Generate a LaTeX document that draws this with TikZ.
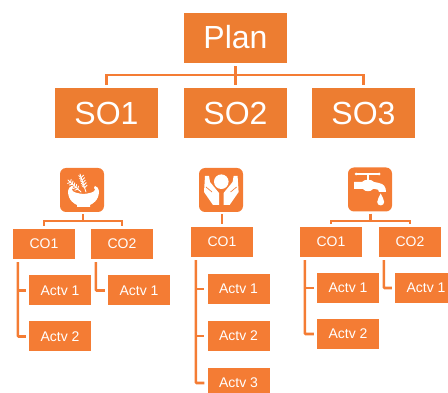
\documentclass[tikz,border=0pt]{standalone}
\usepackage{fontspec}
\usetikzlibrary{calc}
\setmainfont{Liberation Sans}
\definecolor{topor}{HTML}{ED7D31}
\definecolor{lowor}{HTML}{F47C34}
\tikzset{
  x=1pt,y=-1pt,
  basebox/.style={rectangle,inner sep=0pt,text=white,anchor=center},
  bigbox/.style={basebox,fill=topor,minimum width=103pt,minimum height=50pt,font=\fontsize{32}{32}\selectfont},
  cobox/.style={basebox,fill=lowor,minimum width=62pt,minimum height=30pt,font=\fontsize{14}{14}\selectfont},
  iconbox/.style={basebox,fill=lowor,minimum width=44pt,minimum height=44pt,rounded corners=6pt},
  conn/.style={draw=lowor,line width=2.6pt,shorten <=3pt,shorten >=3pt},
  trunk/.style={draw=lowor,line width=2.6pt,shorten <=3pt,shorten >=3pt,rounded corners=1pt},
  art/.style={fill=white,draw=none},
  wheat/.style={draw=white,line width=.9pt,line cap=round},
  cut/.style={draw=lowor,line width=.7pt}
}
\begin{document}
\begin{tikzpicture}
\useasboundingbox (0,0) rectangle (448,393);
\clip (0,0) rectangle (448,393);
% top tree
\node[bigbox,text depth=2.5pt] (plan) at (235.5,38) {Plan};
\node[bigbox] (so1) at (106.5,113) {SO1};
\node[bigbox] (so2) at (235.5,113) {SO2};
\node[bigbox] (so3) at (363.5,113) {SO3};
\coordinate (busP) at (235.5,75);
\draw[conn] (plan.south) -- (so2.north);
\draw[conn] (so1.north) |- (busP) -| (so3.north);
% left group
\node[iconbox] (icA) at (82,190) {};
\node[cobox] (a1) at (44,244) {CO1};
\node[cobox] (a2) at (122,244) {CO2};
\node[cobox] (a11) at (60,290.5) {Actv 1};
\node[cobox] (a12) at (60,336.5) {Actv 2};
\node[cobox] (a21) at (139,290.5) {Actv 1};
\coordinate (busA) at (83,221);
\coordinate (ta1) at ([xshift=5pt]a1.south west);
\coordinate (ta2) at ([xshift=5pt]a2.south west);
\draw[conn,shorten <=2pt,shorten >=0pt] (icA.south -| busA) -- (busA);
\draw[conn] (a1.north) |- (busA) -| (a2.north);
\draw[trunk] (ta1) |- (a12.west);
\draw[conn,shorten <=0pt] (ta1 |- a11.west) -- (a11.west);
\draw[trunk] (ta2) |- (a21.west);
% middle group
\node[iconbox] (icB) at (221,190) {};
\node[cobox] (b1) at (222,242) {CO1};
\node[cobox] (b11) at (238.5,289) {Actv 1};
\node[cobox] (b12) at (238.5,336) {Actv 2};
\node[cobox] (b13) at (238.5,383) {Actv 3};
\coordinate (tb1) at ([xshift=5pt]b1.south west);
\draw[conn,shorten <=2pt] (icB.south -| b1.north) -- (b1.north);
\draw[trunk] (tb1) |- (b13.west);
\draw[conn,shorten <=0pt] (tb1 |- b11.west) -- (b11.west);
\draw[conn,shorten <=0pt] (tb1 |- b12.west) -- (b12.west);
% right group
\node[iconbox] (icC) at (370,189.5) {};
\node[cobox] (c1) at (331,242) {CO1};
\node[cobox] (c2) at (410,242) {CO2};
\node[cobox] (c11) at (348,288) {Actv 1};
\node[cobox] (c12) at (348,334) {Actv 2};
\node[cobox] (c21) at (426,288) {Actv 1};
\coordinate (busC) at (370.5,221);
\coordinate (tc1) at ([xshift=5pt]c1.south west);
\coordinate (tc2) at ([xshift=5pt]c2.south west);
\draw[conn,shorten <=2pt,shorten >=0pt] (icC.south -| busC) -- (busC);
\draw[conn] (c1.north) |- (busC) -| (c2.north);
\draw[trunk] (tc1) |- (c12.west);
\draw[conn,shorten <=0pt] (tc1 |- c11.west) -- (c11.west);
\draw[trunk] (tc2) |- (c21.west);
% bowl icon
\fill[art] (68,191) .. controls (68,201) and (75,204) .. (77,205) -- (77,207) -- (90,207) -- (90,205) .. controls (92,204) and (99,201) .. (99,191) .. controls (99,188) and (97,187) .. (95,186) -- (94,188) .. controls (97,190) and (94,193) .. (83.5,194) .. controls (73,193) and (70,190) .. (73,188) -- (72,186) .. controls (70,187) and (68,188) .. cycle;
\draw[wheat] (68,180) -- (81,192);
\draw[wheat] (80,174) -- (86,192);
\foreach \t in {0.2,0.34,0.48,0.62,0.76}{
  \draw[wheat] ($(68,180)!\t!(81,192)+(0.5,-3)$) -- ($(68,180)!\t!(81,192)$) -- ($(68,180)!\t!(81,192)+(-3,1)$);
  \draw[wheat] ($(80,174)!\t!(86,192)+(2.5,-2.5)$) -- ($(80,174)!\t!(86,192)$) -- ($(80,174)!\t!(86,192)+(-2.5,-2)$);
}
% hands icon
\fill[art] (221.3,181.7) circle (7.3);
\fill[art] (209,176) -- (205,176) -- (204,192) -- (213,205) -- (219,205) -- (219,193) -- (210,182) -- cycle;
\fill[art] (233.6,176) -- (237.6,176) -- (238.6,192) -- (229.6,205) -- (223.6,205) -- (223.6,193) -- (232.6,182) -- cycle;
\draw[cut] (206,187) -- (212,192);
\draw[cut] (236.6,187) -- (230.6,192);
% tap icon
\fill[art] (356,173.2) rectangle (379,174.8);
\fill[art] (356,174) circle (1.5) (379,174) circle (1.5);
\fill[art] (366.5,174) rectangle (369,181);
\fill[art] (354,182) -- (362,182) .. controls (364,179) and (372,179) .. (374,182) -- (379,183) .. controls (384,184) and (386,187) .. (386,192) -- (379,192) .. controls (379,190) and (378,189) .. (375,189) -- (373,189) .. controls (371,192) and (365,192) .. (363,189) -- (354,189) -- cycle;
\fill[art] (380.7,193.5) .. controls (379.5,197) and (377.2,199) .. (377.2,202) .. controls (377.2,206.5) and (384.2,206.5) .. (384.2,202) .. controls (384.2,199) and (381.9,197) .. cycle;
\end{tikzpicture}
\end{document}
